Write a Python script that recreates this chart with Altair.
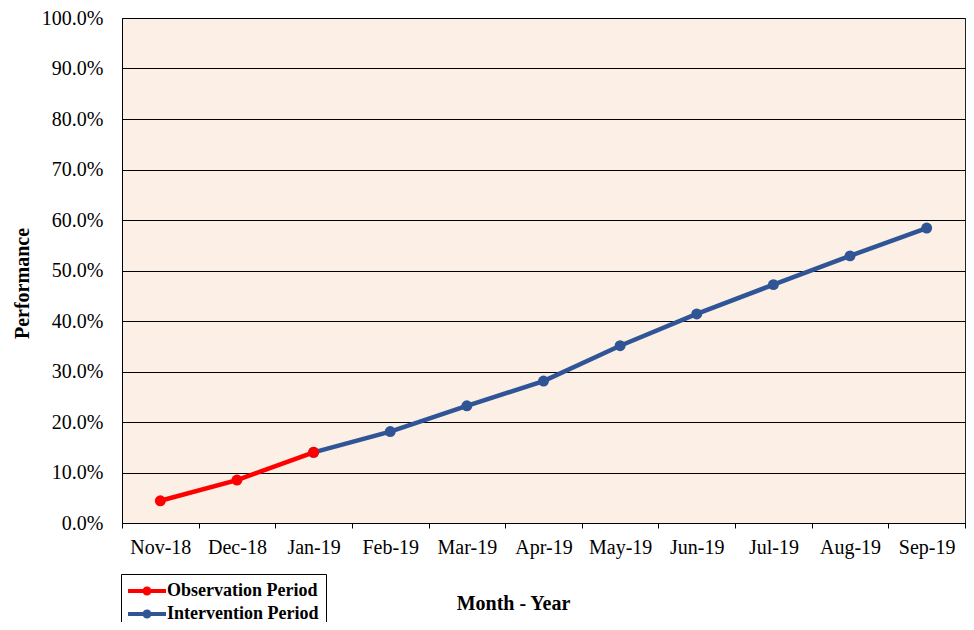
import altair as alt
import pandas as pd

months = ["Nov-18", "Dec-18", "Jan-19", "Feb-19", "Mar-19", "Apr-19",
          "May-19", "Jun-19", "Jul-19", "Aug-19", "Sep-19"]
observation_months = ["Nov-18", "Dec-18", "Jan-19"]
observation_values = [4.4, 8.5, 14.0]
intervention_months = ["Jan-19", "Feb-19", "Mar-19", "Apr-19", "May-19",
                       "Jun-19", "Jul-19", "Aug-19", "Sep-19"]
intervention_values = [14.0, 18.1, 23.2, 28.1, 35.1, 41.4, 47.2, 52.9, 58.4]
series_names = ["Observation Period", "Intervention Period"]
series_colors = ["#FF0000", "#2F5597"]
y_ticks = [i / 10 for i in range(11)]

rows = []
for m, v in zip(intervention_months, intervention_values):
    rows.append({"month": m, "perf": v / 100, "series": series_names[1]})
for m, v in zip(observation_months, observation_values):
    rows.append({"month": m, "perf": v / 100, "series": series_names[0]})
df = pd.DataFrame(rows)

FONT = "Liberation Serif"

x_enc = alt.X("month:N", sort=months,
              scale=alt.Scale(type="band", paddingInner=0, paddingOuter=0),
              axis=alt.Axis(title="Month - Year", labelAngle=0, tickBand="extent",
                            tickSize=5, labelPadding=9, grid=False,
                            titleX=391, titleY=80, titleAlign="center",
                            titleBaseline="middle"))
y_enc = alt.Y("perf:Q", scale=alt.Scale(domain=[0, 1], nice=False),
              axis=alt.Axis(title="Performance", values=y_ticks, format=".1%",
                            ticks=False, labelPadding=19, grid=True,
                            titleX=-100, titleY=265, titleAngle=270,
                            titleAlign="center", titleBaseline="middle"))
color_scale = alt.Scale(domain=series_names, range=series_colors)

legend_path = ("M-1,-0.2H2.8V0.2H-1Z "
               "M1.35,0A0.45,0.45 0 1,1 0.45,0A0.45,0.45 0 1,1 1.35,0Z")
legend = alt.Legend(title=None, orient="none", legendX=-1, legendY=556,
                    symbolType=legend_path, symbolSize=400,
                    symbolStrokeWidth=0, symbolOpacity=1,
                    labelFont=FONT, labelFontSize=18,
                    labelFontWeight="bold", labelColor="black",
                    labelOffset=19, rowPadding=4, padding=7,
                    fillColor="white", strokeColor="black",
                    cornerRadius=0)

lines = alt.Chart(df).mark_line(strokeWidth=4.5).encode(
    x=x_enc, y=y_enc,
    color=alt.Color("series:N", scale=color_scale, legend=legend),
)

points = alt.Chart(df).mark_point(filled=True, size=120, opacity=1).encode(
    x=x_enc, y=y_enc,
    color=alt.Color("series:N", scale=color_scale, legend=legend),
)

chart = alt.layer(lines, points).properties(
    width=843, height=505,
    autosize=alt.AutoSizeParams(type="none"),
    padding={"left": 114, "top": 10, "right": 1, "bottom": 99},
    background="white",
).configure_view(
    fill="#FCEFE5", stroke="#222222", strokeWidth=1,
).configure_axis(
    labelFont=FONT, labelFontSize=20, labelColor="black",
    titleFont=FONT, titleFontSize=20, titleFontWeight="bold", titleColor="black",
    domainColor="black", domainWidth=1, tickColor="black", tickWidth=1,
    gridColor="black", gridWidth=1, gridOpacity=1,
)

chart.save("out.html", embed_options={"renderer": "svg", "actions": False})
